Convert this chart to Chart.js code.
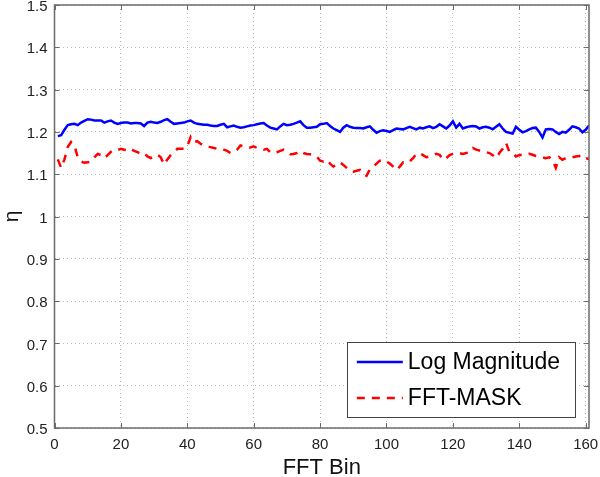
<!DOCTYPE html>
<html>
<head>
<meta charset="utf-8">
<script src="https://cdn.jsdelivr.net/npm/chart.js@4.4.0/dist/chart.umd.min.js"></script>
<style>
html,body{margin:0;padding:0;background:#fff;}
canvas{display:block;}
</style>
</head>
<body>
<canvas id="c" width="600" height="477"></canvas>
<script>
// ---- data ----
const bins = Array.from({length:161}, (_, i) => i + 1);
const logMagnitude = [
1.190,1.192,1.205,1.216,1.218,1.219,1.216,1.222,1.226,1.230,
1.229,1.227,1.227,1.227,1.222,1.225,1.227,1.222,1.219,1.221,
1.222,1.222,1.220,1.221,1.221,1.220,1.214,1.222,1.224,1.222,
1.221,1.224,1.228,1.230,1.224,1.219,1.220,1.221,1.222,1.225,
1.227,1.222,1.219,1.218,1.217,1.217,1.215,1.214,1.214,1.217,
1.219,1.211,1.213,1.215,1.212,1.210,1.211,1.213,1.215,1.216,
1.218,1.220,1.221,1.215,1.210,1.208,1.206,1.213,1.219,1.216,
1.217,1.219,1.222,1.225,1.216,1.210,1.210,1.211,1.212,1.218,
1.219,1.221,1.214,1.208,1.204,1.200,1.210,1.216,1.212,1.210,
1.209,1.209,1.208,1.211,1.213,1.205,1.198,1.202,1.204,1.202,
1.200,1.204,1.208,1.207,1.206,1.209,1.212,1.209,1.206,1.210,
1.208,1.211,1.213,1.209,1.212,1.218,1.213,1.208,1.215,1.225,
1.210,1.219,1.208,1.211,1.213,1.214,1.213,1.208,1.211,1.212,
1.210,1.206,1.212,1.218,1.208,1.200,1.198,1.196,1.212,1.205,
1.199,1.202,1.206,1.209,1.210,1.200,1.187,1.206,1.207,1.206,
1.200,1.195,1.200,1.198,1.205,1.213,1.211,1.208,1.199,1.205,
1.215];
const fftMask = [
1.135,1.115,1.135,1.165,1.176,1.168,1.140,1.130,1.127,1.128,
1.130,1.140,1.148,1.145,1.138,1.145,1.153,1.158,1.157,1.160,
1.158,1.156,1.160,1.155,1.152,1.148,1.150,1.142,1.138,1.142,
1.146,1.140,1.123,1.135,1.145,1.152,1.160,1.160,1.160,1.165,
1.188,1.176,1.178,1.172,1.168,1.165,1.164,1.162,1.160,1.160,
1.158,1.155,1.150,1.152,1.158,1.168,1.166,1.164,1.163,1.166,
1.162,1.159,1.158,1.160,1.152,1.150,1.152,1.155,1.158,1.153,
1.147,1.148,1.150,1.155,1.150,1.148,1.147,1.145,1.142,1.132,
1.130,1.134,1.125,1.118,1.122,1.128,1.122,1.115,1.108,1.106,
1.108,1.110,1.100,1.096,1.112,1.118,1.125,1.132,1.134,1.130,
1.125,1.118,1.110,1.118,1.128,1.126,1.130,1.138,1.148,1.150,
1.145,1.140,1.142,1.145,1.148,1.146,1.134,1.138,1.145,1.148,
1.150,1.150,1.148,1.150,1.152,1.162,1.158,1.156,1.155,1.152,
1.150,1.145,1.138,1.150,1.160,1.174,1.153,1.150,1.142,1.145,
1.146,1.146,1.148,1.146,1.143,1.142,1.140,1.138,1.140,1.134,
1.115,1.140,1.134,1.138,1.140,1.140,1.142,1.143,1.145,1.138,
1.136];
const xTicks = [0,20,40,60,80,100,120,140,160];
const yTicks = [0.5,0.6,0.7,0.8,0.9,1,1.1,1.2,1.3,1.4,1.5];
const seriesLabels = ['Log Magnitude', 'FFT-MASK'];
const xTitle = 'FFT Bin';
const yTitle = 'η';

// ---- chart ----
const FONT = '"Liberation Sans", Arial, sans-serif';
const AXIS_COLOR = '#6b6b6b';

const boxPlugin = {
  id: 'matlabBox',
  afterDatasetsDraw(chart) {
    const {ctx, chartArea: a, scales} = chart;
    ctx.save();
    // inward ticks
    ctx.strokeStyle = AXIS_COLOR;
    ctx.lineWidth = 1;
    const L = 5;
    ctx.beginPath();
    xTicks.forEach(v => {
      const x = Math.round(scales.x.getPixelForValue(v)) + 0.5;
      ctx.moveTo(x, a.bottom); ctx.lineTo(x, a.bottom - L);
      ctx.moveTo(x, a.top); ctx.lineTo(x, a.top + L);
    });
    yTicks.forEach(v => {
      const y = Math.round(scales.y.getPixelForValue(v)) + 0.5;
      ctx.moveTo(a.left, y); ctx.lineTo(a.left + L, y);
      ctx.moveTo(a.right, y); ctx.lineTo(a.right - L, y);
    });
    ctx.stroke();
    // box
    ctx.lineWidth = 1.5;
    ctx.strokeStyle = AXIS_COLOR;
    ctx.strokeRect(a.left, a.top, a.right - a.left, a.bottom - a.top);

    // legend inside plot
    const ds = chart.data.datasets;
    ctx.font = '23px ' + FONT;
    let tw = 0;
    ds.forEach(d => { tw = Math.max(tw, ctx.measureText(d.label).width); });
    const sample = 46, gap = 5, padL = 10, padR = 15, rowH = 36, padT = 2;
    const w = padL + sample + gap + tw + padR;
    const h = rowH * ds.length + padT + 1;
    const bx = a.right - 14 - w, by = a.bottom - 11 - h;
    ctx.fillStyle = '#fff';
    ctx.fillRect(bx, by, w, h);
    ctx.lineWidth = 1;
    ctx.strokeStyle = '#444';
    ctx.strokeRect(Math.round(bx) + 0.5, Math.round(by) + 0.5, Math.round(w), Math.round(h));
    ds.forEach((d, i) => {
      const cy = by + padT + rowH * i + rowH / 2;
      ctx.beginPath();
      ctx.strokeStyle = d.borderColor;
      ctx.lineWidth = d.borderWidth;
      ctx.setLineDash(d.borderDash || []);
      ctx.moveTo(bx + padL, cy); ctx.lineTo(bx + padL + sample, cy);
      ctx.stroke();
      ctx.setLineDash([]);
      ctx.fillStyle = '#000';
      ctx.textBaseline = 'middle';
      ctx.textAlign = 'left';
      ctx.fillText(d.label, bx + padL + sample + gap, cy + 1);
    });
    ctx.restore();
  }
};

new Chart(document.getElementById('c'), {
  type: 'line',
  data: {
    labels: bins,
    datasets: [
      {
        label: seriesLabels[0],
        data: bins.map((b, i) => ({x: b, y: logMagnitude[i]})),
        borderColor: '#0000ff',
        borderWidth: 2.5,
        pointRadius: 0,
        tension: 0,
        fill: false
      },
      {
        label: seriesLabels[1],
        data: bins.map((b, i) => ({x: b, y: fftMask[i]})),
        borderColor: '#ff0000',
        borderWidth: 2.5,
        borderDash: [8, 7],
        pointRadius: 0,
        tension: 0,
        fill: false
      }
    ]
  },
  options: {
    responsive: false,
    animation: false,
    devicePixelRatio: 1,
    layout: {padding: {top: 5, right: 11, left: 0, bottom: 0}},
    plugins: {legend: {display: false}, tooltip: {enabled: false}},
    scales: {
      x: {
        type: 'linear',
        min: 0,
        max: 161,
        afterBuildTicks: s => { s.ticks = xTicks.map(v => ({value: v})); },
        afterFit: s => { s.height = 49; s.paddingRight = 0; s.paddingLeft = 0; },
        grid: {
          color: '#b8b8b8',
          lineWidth: 1,
          drawTicks: false,
          tickLength: 0
        },
        border: {display: false, dash: [1, 3]},
        ticks: {
          color: '#222',
          font: {size: 15, family: FONT},
          padding: 8,
          maxRotation: 0,
          autoSkip: false
        },
        title: {
          display: true,
          text: xTitle,
          color: '#111',
          font: {size: 22, family: FONT, lineHeight: 0.85},
          padding: {top: 0, bottom: 0}
        }
      },
      y: {
        type: 'linear',
        min: 0.5,
        max: 1.5,
        afterBuildTicks: s => { s.ticks = yTicks.map(v => ({value: v})); },
        afterFit: s => { s.width = 54.5; s.paddingTop = 0; s.paddingBottom = 0; },
        grid: {
          color: '#b8b8b8',
          lineWidth: 1,
          drawTicks: false,
          tickLength: 0
        },
        border: {display: false, dash: [1, 3]},
        ticks: {
          color: '#222',
          font: {size: 15, family: FONT},
          padding: 7,
          labelOffset: 2,
          callback: v => String(Math.round(v * 10) / 10)
        },
        title: {
          display: true,
          text: yTitle,
          color: '#111',
          font: {size: 21, family: FONT},
          padding: {top: 0, bottom: 0}
        }
      }
    }
  },
  plugins: [boxPlugin]
});
</script>
</body>
</html>
